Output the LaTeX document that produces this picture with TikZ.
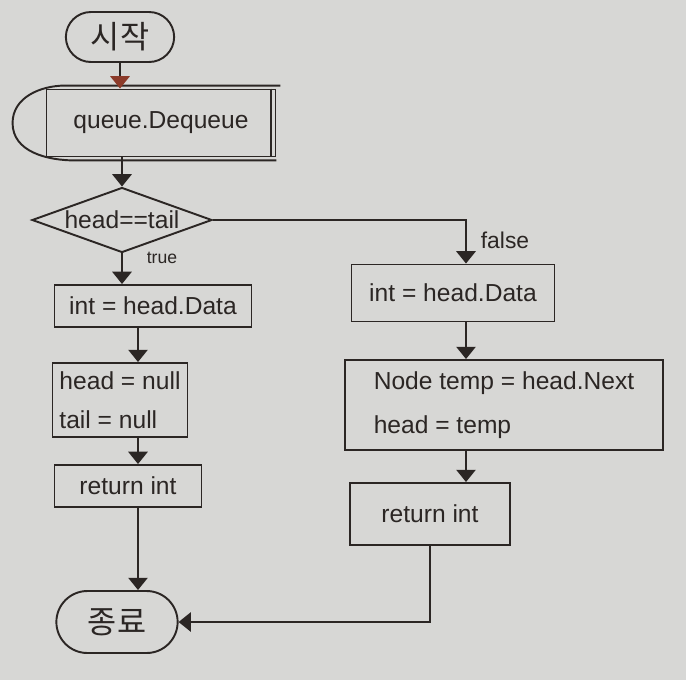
\documentclass[tikz,border=0pt]{standalone}
\usepackage{fontspec}
\setmainfont{Liberation Sans}
\newfontfamily\kor{Noto Sans CJK KR}
\usepackage{xcolor}
\definecolor{Paper}{HTML}{D7D7D5}
\definecolor{Ink}{HTML}{2B2624}
\definecolor{Rust}{HTML}{8C3B2A}
\usepackage{tikz}
\usetikzlibrary{arrows.meta,positioning,shapes.geometric,shapes.misc,calc}

\begin{document}
\begin{tikzpicture}[
  x=0.02cm, y=-0.02cm, color=Ink, line width=1.1pt,
  box/.style={draw=Ink,rectangle,align=left,font=\fontsize{14}{22}\selectfont,inner sep=2pt},
  term/.style={draw=Ink,rounded rectangle,font=\kor\fontsize{18}{22}\selectfont},
  decision/.style={draw=Ink,diamond,inner sep=0pt},
  arrow/.style={-{Triangle[width=11pt,length=7pt]},draw=Ink,line width=1pt},
  tag/.style={font=\fontsize{11}{13}\selectfont,text=Ink}
]
  \fill[Paper] (0,0) rectangle (686,680);
  \useasboundingbox (0,0) rectangle (686,680);

  \coordinate (lcol) at (138,0);
  \coordinate (rcol) at (466,0);

  \node[term,minimum width=2.4cm,minimum height=1.0cm] (start) at (120,37) {시작};
  \node[box,align=center,minimum width=4.58cm,minimum height=1.34cm] (deq) at (161,123) {queue.Dequeue};
  \node[decision,minimum width=3.6cm,minimum height=1.3cm] (dec) at (122,220) {};
  \node[font=\fontsize{14}{16}\selectfont] (cond) at (dec) {head==tail};
  \node[box,minimum width=3.94cm,minimum height=0.84cm] (left1) at (153,306) {int = head.Data};
  \node[box,minimum width=2.7cm,minimum height=1.48cm] (left2) at (120,400) {head = null\\tail = null};
  \node[box,minimum width=2.94cm,minimum height=0.84cm] (left3) at (128,486) {return int};
  \node[term,minimum width=2.66cm,minimum height=1.24cm] (end) at (117,622) {종료};
  \node[box,minimum width=4.06cm,minimum height=1.14cm] (right1) at (453,293) {int = head.Data};
  \node[box,font=\fontsize{14}{25}\selectfont,minimum width=6.36cm,minimum height=1.8cm] (right2) at (504,405) {Node temp = head.Next\\head = temp};
  \node[box,minimum width=3.2cm,minimum height=1.24cm] (right3) at (430,514) {return int};
  \node[tag,font=\fontsize{10}{12}\selectfont] (truetag) at (162,258) {true};
  \node[tag,font=\fontsize{13}{15}\selectfont] (falsetag) at (505,240) {false};

  % predefined process outline
  \draw ([xshift=-0.1cm]deq.north east) -- ([xshift=-0.1cm]deq.south east);
  \draw ([xshift=0.08cm,yshift=0.06cm]deq.north east) -- ([xshift=0.4cm,yshift=0.06cm]deq.north west)
    to[out=180,in=90] ([xshift=-0.66cm]deq.west)
    to[out=-90,in=180] ([xshift=0.6cm,yshift=-0.06cm]deq.south west) -- ([yshift=-0.06cm]deq.south east);

  \draw[arrow,-{Triangle[width=11pt,length=7pt,color=Rust]}] (start) -- (start |- deq.north);
  \draw[arrow] (deq.south -| dec) -- (dec.north);
  \draw[arrow] (dec.south) -- (dec.south |- left1.north);
  \draw[arrow] (left1.south -| lcol) -- (left2.north -| lcol);
  \draw[arrow] (left2.south -| lcol) -- (left3.north -| lcol);
  \draw[arrow] (left3.south -| lcol) -- (end.north -| lcol);
  \draw[arrow] (dec.east) -| (right1.north -| rcol);
  \draw[arrow] (right1.south -| rcol) -- (right2.north -| rcol);
  \draw[arrow] (right2.south -| rcol) -- (right3.north -| rcol);
  \draw[arrow] (right3.south) |- (end.east);
\end{tikzpicture}
\end{document}
